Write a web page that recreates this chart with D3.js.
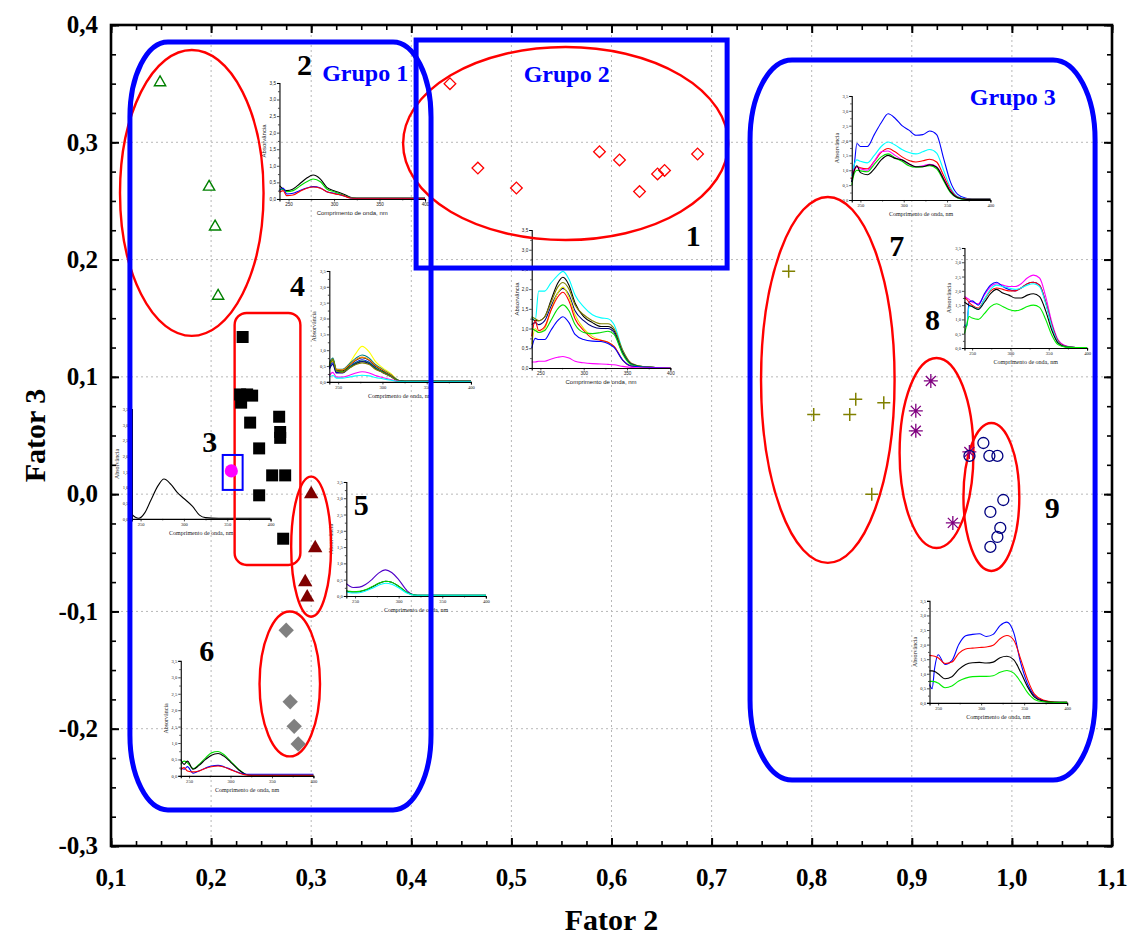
<!DOCTYPE html>
<html><head><meta charset="utf-8">
<script src="https://cdn.jsdelivr.net/npm/d3@7"></script>
<style>body{margin:0;background:#fff} svg{display:block}</style>
</head><body>
<svg id="chart" width="1129" height="936"></svg>
<script>
// ---------- score plot: Fator 2 (x) vs Fator 3 (y) ----------
const xTicks = [0.1,0.2,0.3,0.4,0.5,0.6,0.7,0.8,0.9,1.0,1.1];
const xTickLabels = ["0,1","0,2","0,3","0,4","0,5","0,6","0,7","0,8","0,9","1,0","1,1"];
const yTicks = [-0.3,-0.2,-0.1,0.0,0.1,0.2,0.3,0.4];
const yTickLabels = ["-0,3","-0,2","-0,1","0,0","0,1","0,2","0,3","0,4"];

const cluster1 = [[0.4386,0.350],[0.4665,0.278],[0.505,0.261],[0.588,0.292],[0.608,0.285],[0.628,0.258],[0.646,0.273],[0.653,0.276],[0.686,0.290]];
const cluster2 = [[0.149,0.351],[0.198,0.262],[0.204,0.228],[0.207,0.169]];
const cluster3 = [[0.2202,0.0198]];
const cluster4 = [[0.2315,0.134],[0.229,0.085],[0.236,0.085],[0.241,0.084],[0.230,0.078],[0.239,0.061],[0.268,0.066],[0.269,0.053],[0.269,0.048],[0.248,0.039],[0.261,0.016],[0.274,0.016],[0.248,-0.001],[0.272,-0.038]];
const cluster5 = [[0.300,0.000],[0.304,-0.046],[0.294,-0.075],[0.296,-0.088]];
const cluster6 = [[0.275,-0.116],[0.279,-0.177],[0.283,-0.198],[0.287,-0.213]];
const cluster7 = [[0.777,0.190],[0.802,0.068],[0.838,0.068],[0.844,0.081],[0.872,0.078],[0.860,0.000]];
const cluster8 = [[0.919,0.0965],[0.904,0.071],[0.904,0.054],[0.9575,0.036],[0.941,-0.0245]];
const cluster9 = [[0.9715,0.0436],[0.9775,0.0326],[0.9855,0.0326],[0.9576,0.0326],[0.9914,-0.005],[0.9785,-0.0152],[0.9884,-0.0288],[0.9855,-0.0365],[0.9785,-0.045]];

// ---------- UV spectra shown next to each cluster (absorbance vs wavelength) ----------
const absTicks = [0,0.5,1,1.5,2,2.5,3,3.5];
const absTickLabels = ["0,0","0,5","1,0","1,5","2,0","2,5","3,0","3,5"];
const nmTicks = [250,300,350,400];
const nmTickLabels = ["250","300","350","400"];

const wlShort = [240,244,248,255,262,270,277,285,292,300,310,318,325,340,400];
const wlMid   = [240,244,248,255,262,270,276,283,290,300,310,320,328,335,345,355,370,400];
const wlLong  = [240,243,246,250,258,266,274,282,290,298,306,314,322,330,338,346,354,362,372,385,400];

// cluster 2
const spectraA = [
  [0.40,0.30,0.25,0.30,0.45,0.63,0.72,0.60,0.35,0.25,0.15,0.05,0.02,0.02,0.02],
  [0.30,0.28,0.22,0.25,0.38,0.52,0.60,0.52,0.30,0.22,0.12,0.04,0.03,0.03,0.03],
  [0.25,0.33,0.15,0.17,0.25,0.33,0.37,0.33,0.22,0.17,0.10,0.03,0.02,0.02,0.02],
  [0.20,0.25,0.10,0.12,0.22,0.32,0.36,0.32,0.22,0.16,0.10,0.03,0.02,0.02,0.02]];
const colorsA = ["#000000","#00dd00","#0000ff","#ff0000"];

// cluster 1
const spectraB = [
  [1.30,1.20,1.95,1.95,2.15,2.35,2.45,2.25,1.85,1.55,1.35,1.27,1.25,1.10,0.45,0.10,0.03,0.0],
  [1.25,1.20,1.20,1.30,1.70,2.15,2.30,2.10,1.65,1.30,1.15,1.05,1.05,0.95,0.40,0.10,0.03,0.0],
  [1.30,1.25,1.20,1.30,1.65,2.05,2.17,2.00,1.60,1.35,1.20,1.12,1.12,1.00,0.45,0.12,0.03,0.0],
  [1.10,1.15,1.10,1.20,1.55,1.90,2.02,1.85,1.45,1.20,1.05,1.00,1.00,0.90,0.38,0.10,0.02,0.0],
  [0.60,1.00,0.90,1.00,1.45,1.90,2.05,1.80,1.35,1.00,0.80,0.70,0.65,0.55,0.20,0.05,0.02,0.0],
  [0.80,1.20,0.95,1.05,1.45,1.80,1.92,1.70,1.25,0.95,0.75,0.70,0.65,0.55,0.20,0.05,0.02,0.0],
  [1.00,0.95,0.90,0.95,1.20,1.50,1.60,1.45,1.10,0.90,0.87,0.90,0.93,0.85,0.35,0.08,0.02,0.0],
  [0.50,0.75,0.72,0.72,0.95,1.20,1.30,1.15,0.85,0.72,0.68,0.67,0.62,0.52,0.20,0.05,0.02,0.0],
  [0.15,0.15,0.17,0.17,0.22,0.27,0.29,0.25,0.17,0.13,0.11,0.10,0.09,0.08,0.04,0.01,0.0,0.0]];
const colorsB = ["#00ffff","#000000","#808000","#000080","#e8e800","#ff0000","#00dd00","#0000ff","#ff00ff"];

// cluster 4
const spectraC = [
  [0.50,0.60,0.35,0.35,0.55,0.90,1.12,0.95,0.65,0.45,0.25,0.05,0.02,0.02,0.02],
  [0.60,0.75,0.40,0.40,0.55,0.75,0.85,0.75,0.55,0.40,0.22,0.05,0.02,0.02,0.02],
  [0.50,0.70,0.35,0.35,0.50,0.68,0.76,0.68,0.50,0.36,0.20,0.04,0.02,0.02,0.02],
  [0.55,0.65,0.40,0.38,0.52,0.70,0.78,0.70,0.52,0.38,0.21,0.05,0.02,0.02,0.02],
  [0.45,0.60,0.30,0.30,0.45,0.62,0.70,0.62,0.45,0.32,0.18,0.04,0.02,0.02,0.02],
  [0.50,0.70,0.35,0.32,0.45,0.60,0.66,0.60,0.44,0.32,0.18,0.04,0.02,0.02,0.02],
  [0.40,0.55,0.28,0.28,0.42,0.57,0.64,0.57,0.42,0.30,0.16,0.03,0.02,0.02,0.02],
  [0.55,0.72,0.35,0.30,0.42,0.55,0.60,0.55,0.40,0.30,0.16,0.03,0.02,0.02,0.02],
  [0.20,0.30,0.15,0.15,0.20,0.28,0.32,0.28,0.20,0.14,0.07,0.02,0.01,0.01,0.01],
  [0.15,0.20,0.12,0.12,0.15,0.19,0.21,0.19,0.14,0.10,0.05,0.01,0.01,0.01,0.01]];
const colorsC = ["#ffff00","#008080","#000000","#ff8000","#0000ff","#00aa00","#000080","#808000","#ff00ff","#00ffff"];

// cluster 3
const spectraD = [
  [0.14,0.05,0.02,0.20,0.60,1.05,1.27,1.10,0.85,0.65,0.40,0.12,0.04,0.02,0.02]];
const colorsD = ["#000000"];

// cluster 5
const spectraE = [
  [0.38,0.30,0.26,0.27,0.35,0.52,0.70,0.80,0.72,0.50,0.15,0.03,0.02,0.02,0.02],
  [0.15,0.13,0.12,0.13,0.18,0.28,0.38,0.45,0.42,0.30,0.10,0.03,0.02,0.02,0.02],
  [0.16,0.14,0.13,0.14,0.19,0.29,0.39,0.45,0.42,0.30,0.10,0.03,0.02,0.02,0.02],
  [0.12,0.10,0.09,0.10,0.15,0.24,0.33,0.39,0.36,0.25,0.08,0.02,0.02,0.02,0.02]];
const colorsE = ["#5000c8","#000000","#00dd00","#00ffff"];

// cluster 6
const spectraF = [
  [0.35,0.45,0.40,0.22,0.35,0.55,0.70,0.74,0.65,0.45,0.20,0.05,0.02,0.02,0.02],
  [0.50,0.35,0.45,0.20,0.32,0.50,0.63,0.68,0.60,0.42,0.18,0.05,0.02,0.02,0.02],
  [0.25,0.20,0.28,0.08,0.15,0.24,0.30,0.32,0.28,0.20,0.10,0.05,0.05,0.05,0.05],
  [0.18,0.25,0.15,0.12,0.15,0.23,0.28,0.30,0.27,0.19,0.09,0.03,0.02,0.02,0.02]];
const colorsF = ["#00dd00","#000000","#0000ff","#ff0000"];

// cluster 7
const spectraG = [
  [0.60,1.20,1.90,1.80,1.80,2.20,2.60,2.90,2.75,2.50,2.35,2.18,2.20,2.32,2.20,1.40,0.60,0.20,0.06,0.02,0.02],
  [0.80,1.20,1.35,1.30,1.25,1.50,1.80,1.95,1.85,1.70,1.60,1.55,1.62,1.70,1.58,1.00,0.42,0.12,0.04,0.02,0.02],
  [0.70,1.00,1.12,1.08,1.05,1.30,1.60,1.73,1.62,1.45,1.33,1.28,1.32,1.37,1.28,0.82,0.35,0.10,0.03,0.02,0.02],
  [0.90,1.05,1.10,1.05,1.00,1.30,1.62,1.65,1.50,1.35,1.20,1.12,1.15,1.20,1.12,0.72,0.30,0.08,0.03,0.02,0.02],
  [0.50,0.90,1.00,0.98,0.95,1.20,1.45,1.55,1.42,1.30,1.15,1.10,1.12,1.15,1.05,0.65,0.25,0.07,0.02,0.02,0.02],
  [0.60,1.00,1.15,0.92,0.85,1.05,1.35,1.50,1.40,1.35,1.22,1.12,1.12,1.18,1.10,0.70,0.28,0.08,0.02,0.02,0.02]];
const colorsG = ["#0000ff","#00ffff","#ff0000","#ff00ff","#00dd00","#000000"];

// cluster 8
const spectraH = [
  [1.80,1.75,1.70,1.60,1.55,1.85,2.15,2.25,2.20,2.15,2.15,2.25,2.45,2.55,2.45,1.80,0.90,0.30,0.08,0.02,0.02],
  [0.80,0.75,1.60,1.65,1.50,1.90,2.20,2.30,2.15,2.05,2.00,2.10,2.25,2.30,2.20,1.60,0.80,0.25,0.06,0.02,0.02],
  [1.75,1.70,1.60,1.50,1.40,1.70,2.00,2.10,2.05,2.00,2.00,2.10,2.25,2.30,2.20,1.60,0.80,0.25,0.06,0.02,0.02],
  [0.80,0.80,1.45,1.45,1.35,1.70,2.05,2.20,2.15,2.10,2.05,2.10,2.20,2.25,2.15,1.55,0.75,0.22,0.05,0.02,0.02],
  [1.60,1.55,1.50,1.45,1.35,1.60,1.90,2.05,1.92,1.85,1.75,1.75,1.85,1.90,1.80,1.30,0.62,0.18,0.04,0.02,0.02],
  [0.50,0.80,1.10,1.05,1.00,1.20,1.45,1.55,1.45,1.35,1.30,1.35,1.45,1.50,1.42,1.00,0.45,0.12,0.03,0.02,0.02]];
const colorsH = ["#ff00ff","#0000ff","#ff0000","#00ffff","#000000","#00ee00"];

// cluster 9
const spectraI = [
  [0.63,0.49,1.20,1.65,1.32,1.45,2.00,2.30,2.35,2.37,2.28,2.35,2.65,2.77,2.40,1.37,0.65,0.25,0.08,0.03,0.02],
  [1.63,1.62,1.60,1.55,1.35,1.40,1.70,1.85,1.88,1.90,1.92,1.98,2.20,2.31,2.15,1.50,0.80,0.30,0.10,0.03,0.02],
  [1.10,1.10,1.08,1.00,0.83,0.90,1.15,1.32,1.38,1.39,1.37,1.40,1.55,1.60,1.48,1.05,0.55,0.20,0.06,0.02,0.02],
  [0.74,0.74,0.73,0.68,0.52,0.58,0.75,0.85,0.90,0.91,0.91,0.93,1.05,1.11,1.02,0.72,0.35,0.12,0.04,0.02,0.02]];
const colorsI = ["#0000ff","#ff0000","#000000","#00ee00"];

// ---------- layout ----------
const SERIF = "'Liberation Serif','Times New Roman',serif";
const SANS = "'Liberation Sans',Arial,sans-serif";
const svg = d3.select("#chart");
const x = d3.scaleLinear().domain([0.1, 1.1]).range([111, 1112]);
const y = d3.scaleLinear().domain([-0.3, 0.4]).range([846, 25]);

// dotted grid at the major ticks
const grid = svg.append("g").attr("stroke", "#b8b8b8").attr("stroke-width", 1).attr("stroke-dasharray", "2,3");
grid.selectAll(".gx").data(xTicks.slice(1, -1)).join("line")
  .attr("x1", d => x(d)).attr("x2", d => x(d)).attr("y1", y(0.4)).attr("y2", y(-0.3));
grid.selectAll(".gy").data(yTicks.slice(1, -1)).join("line")
  .attr("y1", d => y(d)).attr("y2", d => y(d)).attr("x1", x(0.1)).attr("x2", x(1.1));

// ---------- inset spectra ----------
function drawInset(frame, wl, spectra, colors, font) {
  const ix = d3.scaleLinear().domain([240, 400]).range([x(frame.f2[0]), x(frame.f2[1])]);
  const iy = d3.scaleLinear().domain([0, 3.5]).range([y(frame.f3[0]), y(frame.f3[1])]);
  const g = svg.append("g");
  const line = d3.line().x((d, i) => ix(wl[i])).y(d => iy(d)).curve(d3.curveMonotoneX);
  g.selectAll("path.spec").data(spectra).join("path").attr("class", "spec")
    .attr("fill", "none").attr("stroke-width", 1.1)
    .attr("stroke", (d, i) => colors[i]).attr("d", line);

  const x0 = ix.range()[0], x1 = ix.range()[1], yb = iy.range()[0], yt = iy.range()[1];
  // y axis
  const ya = g.append("g").attr("transform", `translate(${x0},0)`)
    .call(d3.axisLeft(iy).tickValues(absTicks).tickSize(2.5).tickFormat((d, i) => absTickLabels[i]));
  g.append("g").attr("transform", `translate(${x0},0)`)
    .call(d3.axisLeft(iy).tickValues(d3.range(0.25, 3.5, 0.5)).tickSize(1.5).tickFormat(""))
    .select(".domain").remove();
  // x axis
  const xa = g.append("g").attr("transform", `translate(0,${yb})`)
    .call(d3.axisBottom(ix).tickValues(nmTicks).tickSize(2.5).tickFormat((d, i) => nmTickLabels[i]));
  g.append("g").attr("transform", `translate(0,${yb})`)
    .call(d3.axisBottom(ix).tickValues([275, 325, 375]).tickSize(1.5).tickFormat(""))
    .select(".domain").remove();
  g.selectAll(".domain").attr("stroke-width", 1.1);
  g.selectAll(".tick line").attr("stroke-width", 0.7);
  g.selectAll(".tick text").attr("font-size", 4.6).attr("font-family", font).attr("fill", "#222");
  ya.selectAll(".tick text").attr("x", -3.5);
  xa.selectAll(".tick text").attr("y", 4);
  g.append("text").attr("x", (x0 + x1) / 2).attr("y", yb + 16)
    .attr("text-anchor", "middle").attr("font-size", 6).attr("font-family", font).attr("fill", "#222")
    .text("Comprimento de onda, nm");
  g.append("text").attr("transform", `translate(${x0 - 13},${(yb + yt) / 2}) rotate(-90)`)
    .attr("text-anchor", "middle").attr("font-size", 6).attr("font-family", font).attr("fill", "#222")
    .text("Absorvância");
}

drawInset({f2: [0.2683, 0.4137], f3: [0.2517, 0.3506]}, wlShort, spectraA, colorsA, SANS);
drawInset({f2: [0.5203, 0.6588], f3: [0.1076, 0.2252]}, wlMid, spectraB, colorsB, SANS);
drawInset({f2: [0.3181, 0.4596], f3: [0.0957, 0.1903]}, wlShort, spectraC, colorsC, SERIF);
drawInset({f2: [0.1209, 0.2594], f3: [-0.0211, 0.0726]}, wlShort, spectraD, colorsD, SERIF);
drawInset({f2: [0.3351, 0.4745], f3: [-0.0868, 0.0104]}, wlShort, spectraE, colorsE, SERIF);
drawInset({f2: [0.1697, 0.3022], f3: [-0.2402, -0.1422]}, wlShort, spectraF, colorsF, SERIF);
drawInset({f2: [0.8400, 0.9785], f3: [0.2508, 0.3395]}, wlLong, spectraG, colorsG, SERIF);
drawInset({f2: [0.9526, 1.0751], f3: [0.1246, 0.2099]}, wlLong, spectraH, colorsH, SERIF);
drawInset({f2: [0.9177, 1.0552], f3: [-0.178, -0.091]}, wlLong, spectraI, colorsI, SERIF);

// ---------- cluster outlines ----------
const ellipses = [
  {c: [0.1807, 0.2568], r: [0.0717, 0.1219]},
  {c: [0.5542, 0.2990], r: [0.1624, 0.0823]},
  {c: [0.2999, -0.0448], r: [0.0199, 0.0597]},
  {c: [0.2786, -0.1618], r: [0.0302, 0.0618]},
  {c: [0.8161, 0.0974], r: [0.0667, 0.1560]},
  {c: [0.9247, 0.0351], r: [0.0369, 0.0810]},
  {c: [0.9795, -0.0024], r: [0.0279, 0.0631]}];
svg.append("g").selectAll("ellipse").data(ellipses).join("ellipse")
  .attr("cx", d => x(d.c[0])).attr("cy", d => y(d.c[1]))
  .attr("rx", d => x(d.c[0] + d.r[0]) - x(d.c[0]))
  .attr("ry", d => y(d.c[1] - d.r[1]) - y(d.c[1]))
  .attr("fill", "none").attr("stroke", "#ff0000").attr("stroke-width", 2.4);

function box(f2, f3, rx, ry, color, width) {
  svg.append("rect")
    .attr("x", x(f2[0])).attr("y", y(f3[1]))
    .attr("width", x(f2[1]) - x(f2[0])).attr("height", y(f3[0]) - y(f3[1]))
    .attr("rx", rx).attr("ry", ry)
    .attr("fill", "none").attr("stroke", color).attr("stroke-width", width);
}
box([0.2235, 0.2892], [-0.0604, 0.1545], 12, 12, "#ff0000", 2.4);   // cluster 4
box([0.2116, 0.2315], [0.0036, 0.0334], 0, 0, "#0000ff", 2);        // cluster 3
box([0.1189, 0.4197], [-0.2692, 0.3855], 38, 75, "#0000ff", 5);     // Grupo 1
box([0.4048, 0.7155], [0.1928, 0.3872], 0, 0, "#0000ff", 5);        // Grupo 2
box([0.7384, 1.0831], [-0.2437, 0.3702], 42, 80, "#0000ff", 5);     // Grupo 3

// ---------- score points ----------
const pts = svg.append("g");
function symbols(data, type, size, fill, stroke, sw, rot) {
  pts.append("g").selectAll("path").data(data).join("path")
    .attr("transform", d => `translate(${x(d[0])},${y(d[1])}) rotate(${rot || 0})`)
    .attr("d", d3.symbol().type(type).size(size)())
    .attr("fill", fill).attr("stroke", stroke).attr("stroke-width", sw);
}
function strokes(data, pathD, stroke, sw) {
  pts.append("g").selectAll("path").data(data).join("path")
    .attr("transform", d => `translate(${x(d[0])},${y(d[1])})`)
    .attr("d", pathD).attr("fill", "none").attr("stroke", stroke).attr("stroke-width", sw);
}
symbols(cluster2, d3.symbolTriangle, 55, "none", "#008000", 1.4);
symbols(cluster4, d3.symbolSquare, 144, "#000000", "none", 0);
symbols(cluster3, d3.symbolCircle, 135, "#ff00ff", "none", 0);
symbols(cluster5, d3.symbolTriangle, 90, "#800000", "none", 0);
symbols(cluster6, d3.symbolSquare, 118, "#808080", "none", 0, 45);
symbols(cluster1, d3.symbolSquare, 68, "none", "#ff0000", 1.3, 45);
strokes(cluster7, "M-6.5,0H6.5M0,-6.5V6.5", "#808000", 1.5);
strokes(cluster8, "M-7,0H7M0,-7V7M-5,-5L5,5M-5,5L5,-5", "#800080", 1.3);
symbols(cluster9, d3.symbolCircle, 95, "none", "#000080", 1.3);

// ---------- cluster numbers and group names ----------
const clusterNums = ["1","2","3","4","5","6","7","8","9"];
const clusterNumPos = [[0.6817,0.2201],[0.2932,0.3659],[0.1986,0.0445],[0.2863,0.1775],[0.35,-0.0092],[0.1956,-0.1337],[0.8849,0.2116],[0.9207,0.1485],[1.0402,-0.0118]];
svg.append("g").selectAll("text").data(clusterNums).join("text")
  .attr("x", (d, i) => x(clusterNumPos[i][0])).attr("y", (d, i) => y(clusterNumPos[i][1]))
  .attr("text-anchor", "middle").attr("dy", "0.35em")
  .attr("font-family", SERIF).attr("font-weight", "bold").attr("font-size", 30)
  .text(d => d);

const groupNames = ["Grupo 1","Grupo 2","Grupo 3"];
const groupPos = [[0.3539,0.3591],[0.5552,0.3583],[1.0009,0.3387]];
svg.append("g").selectAll("text").data(groupNames).join("text")
  .attr("x", (d, i) => x(groupPos[i][0])).attr("y", (d, i) => y(groupPos[i][1]))
  .attr("text-anchor", "middle").attr("dy", "0.35em")
  .attr("font-family", SERIF).attr("font-weight", "bold").attr("font-size", 24).attr("fill", "#0000ff")
  .text(d => d);

// ---------- frame, ticks and labels ----------
const minorX = d3.range(0.1, 1.1001, 0.025);
const minorY = d3.range(-0.3, 0.4001, 0.025);
function ticks(gen, tr, vals, len, sw) {
  const g = svg.append("g").attr("transform", tr)
    .call(gen.tickValues(vals).tickSize(-len).tickFormat(""));
  g.select(".domain").remove();
  g.selectAll("line").attr("stroke", "#000").attr("stroke-width", sw);
}
ticks(d3.axisBottom(x), `translate(0,${y(-0.3)})`, minorX, 5, 1.6);
ticks(d3.axisTop(x), `translate(0,${y(0.4)})`, minorX, 5, 1.6);
ticks(d3.axisLeft(y), `translate(${x(0.1)},0)`, minorY, 5, 1.6);
ticks(d3.axisRight(y), `translate(${x(1.1)},0)`, minorY, 5, 1.6);
ticks(d3.axisBottom(x), `translate(0,${y(-0.3)})`, xTicks, 8, 2);
ticks(d3.axisTop(x), `translate(0,${y(0.4)})`, xTicks, 8, 2);
ticks(d3.axisLeft(y), `translate(${x(0.1)},0)`, yTicks, 8, 2);
ticks(d3.axisRight(y), `translate(${x(1.1)},0)`, yTicks, 8, 2);

svg.append("rect").attr("x", x(0.1)).attr("y", y(0.4))
  .attr("width", x(1.1) - x(0.1)).attr("height", y(-0.3) - y(0.4))
  .attr("fill", "none").attr("stroke", "#000").attr("stroke-width", 2.6);

svg.append("g").selectAll("text").data(xTicks).join("text")
  .attr("x", d => x(d)).attr("y", y(-0.3) + 40)
  .attr("text-anchor", "middle").attr("font-family", SERIF).attr("font-weight", "bold").attr("font-size", 25)
  .text((d, i) => xTickLabels[i]);
svg.append("g").selectAll("text").data(yTicks).join("text")
  .attr("x", x(0.1) - 13).attr("y", d => y(d)).attr("dy", "0.33em")
  .attr("text-anchor", "end").attr("font-family", SERIF).attr("font-weight", "bold").attr("font-size", 25)
  .text((d, i) => yTickLabels[i]);

svg.append("text").attr("x", (x(0.1) + x(1.1)) / 2).attr("y", 930)
  .attr("text-anchor", "middle").attr("font-family", SERIF).attr("font-weight", "bold").attr("font-size", 30)
  .text("Fator 2");
svg.append("text").attr("transform", `translate(45,${(y(0.4) + y(-0.3)) / 2}) rotate(-90)`)
  .attr("text-anchor", "middle").attr("font-family", SERIF).attr("font-weight", "bold").attr("font-size", 30)
  .text("Fator 3");
</script>
</body></html>
